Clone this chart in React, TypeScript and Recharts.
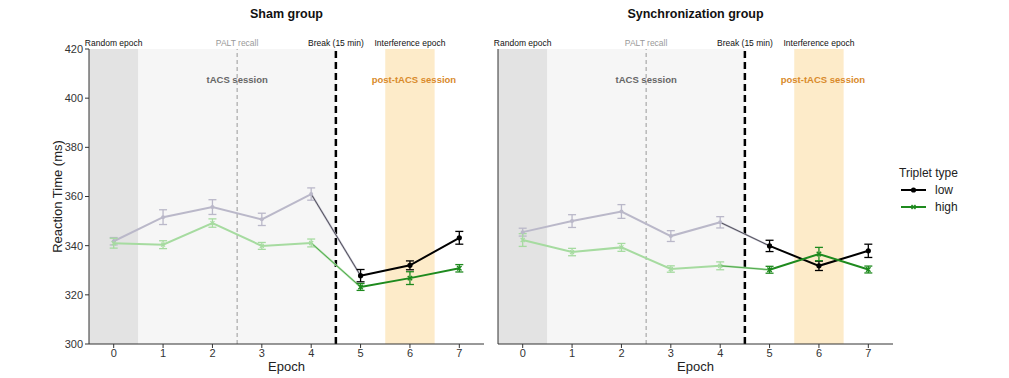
import React from 'react';
import { ComposedChart, Line, XAxis, YAxis, ReferenceArea, ReferenceLine, ErrorBar } from 'recharts';

const epochs = [0, 1, 2, 3, 4, 5, 6, 7];
const yTicks = [300, 320, 340, 360, 380, 400, 420];

const shamLow = [341.8, 351.6, 355.7, 350.7, 361.0, 327.8, 332.0, 343.2];
const shamLowErr = [1.5, 3.0, 3.0, 2.5, 2.5, 2.5, 1.8, 2.6];
const shamHigh = [341.0, 340.4, 349.2, 339.9, 341.1, 323.2, 326.8, 330.8];
const shamHighErr = [2.0, 1.6, 1.7, 1.4, 1.6, 1.4, 2.6, 1.5];

const syncLow = [345.5, 350.0, 353.9, 343.9, 349.5, 339.9, 331.8, 337.9];
const syncLowErr = [1.6, 2.6, 2.8, 2.2, 2.3, 2.3, 1.9, 2.7];
const syncHigh = [342.3, 337.4, 339.3, 330.5, 331.8, 330.2, 336.6, 330.3];
const syncHighErr = [2.6, 1.5, 1.6, 1.3, 1.6, 1.4, 2.7, 1.4];

const FONT = 'Arial, "Liberation Sans", Helvetica, sans-serif';
const C = {
  lowFaded: '#bab8c9',
  highFaded: '#a6dba0',
  low: '#000000',
  high: '#1e8a1e',
  axis: '#333333',
};

function buildRows(low: number[], lowErr: number[], high: number[], highErr: number[]) {
  return epochs.map((e, i) => ({
    epoch: e,
    lowPre: i <= 4 ? low[i] : null,
    lowPreErr: i <= 4 ? lowErr[i] : null,
    lowBridge: i >= 4 && i <= 5 ? low[i] : null,
    lowPost: i >= 5 ? low[i] : null,
    lowPostErr: i >= 5 ? lowErr[i] : null,
    highPre: i <= 4 ? high[i] : null,
    highPreErr: i <= 4 ? highErr[i] : null,
    highBridge: i >= 4 && i <= 5 ? high[i] : null,
    highPost: i >= 5 ? high[i] : null,
    highPostErr: i >= 5 ? highErr[i] : null,
  }));
}

const shamRows = buildRows(shamLow, shamLowErr, shamHigh, shamHighErr);
const syncRows = buildRows(syncLow, syncLowErr, syncHigh, syncHighErr);

const circleDot = (color: string, r: number) => (props: any) => {
  const { cx, cy, value, index } = props;
  if (cx == null || cy == null || value == null || isNaN(cy)) return <g key={`c${index}`} />;
  return <circle key={`c${index}`} cx={cx} cy={cy} r={r} fill={color} stroke="none" />;
};

const crossDot = (color: string, s: number, w: number) => (props: any) => {
  const { cx, cy, value, index } = props;
  if (cx == null || cy == null || value == null || isNaN(cy)) return <g key={`x${index}`} />;
  return (
    <path
      key={`x${index}`}
      d={`M${cx - s},${cy - s}L${cx + s},${cy + s}M${cx - s},${cy + s}L${cx + s},${cy - s}`}
      stroke={color}
      strokeWidth={w}
      fill="none"
    />
  );
};

const topLabel = (value: string, fill: string) => ({
  value,
  position: 'top' as const,
  offset: 3,
  fill,
  fontSize: 8.5,
  fontFamily: FONT,
});

function Panel({ title, rows, showYLabels, left }: { title: string; rows: any[]; showYLabels: boolean; left: number }) {
  return (
    <div style={{ position: 'absolute', left, top: 0, width: 500, height: 378 }}>
      <ComposedChart width={500} height={378} data={rows} margin={{ top: 49, right: 16, bottom: 4, left: 49 }}>
        <XAxis
          dataKey="epoch"
          type="number"
          domain={[-0.5, 7.5]}
          ticks={epochs}
          allowDataOverflow
          height={30}
          tickSize={4}
          tickMargin={1}
          stroke={C.axis}
          tick={{ fill: '#333', fontSize: 11, fontFamily: FONT }}
          label={{ value: 'Epoch', position: 'insideBottom', offset: 3, fill: '#222', fontSize: 13, fontFamily: FONT }}
        />
        <YAxis
          type="number"
          domain={[300, 420]}
          ticks={yTicks}
          allowDataOverflow
          width={40}
          tickSize={4}
          tickMargin={2}
          stroke={C.axis}
          tick={showYLabels ? { fill: '#333', fontSize: 11, fontFamily: FONT } : false}
          label={
            showYLabels
              ? {
                  value: 'Reaction Time (ms)',
                  angle: -90,
                  position: 'insideLeft',
                  offset: 8,
                  fill: '#222',
                  fontSize: 13,
                  fontFamily: FONT,
                  style: { textAnchor: 'middle' },
                }
              : undefined
          }
        />
        <ReferenceArea
          x1={-0.5}
          x2={7.5}
          fill="#ffffff"
          fillOpacity={0}
          stroke="none"
          label={{ value: title, position: 'top', offset: 31, fill: '#111', fontSize: 12.5, fontWeight: 'bold', fontFamily: FONT }}
        />
        <ReferenceArea
          x1={-0.5}
          x2={0.5}
          fill="#e3e3e3"
          fillOpacity={1}
          stroke="none"
          label={topLabel('Random epoch', '#111')}
        />
        <ReferenceArea
          x1={0.5}
          x2={4.5}
          fill="#f6f6f6"
          fillOpacity={1}
          stroke="none"
          label={{ value: 'tACS session', position: 'insideTop', offset: 27, fill: '#666', fontSize: 9.5, fontWeight: 'bold', fontFamily: FONT }}
        />
        <ReferenceArea
          x1={5.5}
          x2={6.5}
          fill="#fdebc9"
          fillOpacity={1}
          stroke="none"
          label={{ value: 'post-tACS session', position: 'insideTop', offset: 27, dx: 4, fill: '#d98a2b', fontSize: 9.5, fontWeight: 'bold', fontFamily: FONT }}
        />
        <ReferenceLine x={2.5} stroke="#9a9a9a" strokeWidth={1} strokeDasharray="4 3" label={topLabel('PALT recall', '#999')} />
        <ReferenceLine x={4.5} stroke="#000" strokeWidth={2.5} strokeDasharray="7 4" label={topLabel('Break (15 min)', '#111')} />
        <ReferenceLine x={6} stroke="none" strokeOpacity={0} label={topLabel('Interference epoch', '#111')} />

        <Line dataKey="lowPre" type="linear" stroke={C.lowFaded} strokeWidth={2} dot={circleDot(C.lowFaded, 2)} activeDot={false} isAnimationActive={false} legendType="none">
          <ErrorBar dataKey="lowPreErr" direction="y" width={4} stroke={C.lowFaded} strokeWidth={1.3} />
        </Line>
        <Line dataKey="highPre" type="linear" stroke={C.highFaded} strokeWidth={2} dot={crossDot(C.highFaded, 2, 1.2)} activeDot={false} isAnimationActive={false} legendType="none">
          <ErrorBar dataKey="highPreErr" direction="y" width={4} stroke={C.highFaded} strokeWidth={1.3} />
        </Line>
        <Line dataKey="lowBridge" type="linear" stroke={C.lowFaded} strokeWidth={2} dot={false} activeDot={false} isAnimationActive={false} legendType="none" />
        <Line dataKey="highBridge" type="linear" stroke={C.highFaded} strokeWidth={2} dot={false} activeDot={false} isAnimationActive={false} legendType="none" />
        <Line dataKey="lowBridge" type="linear" stroke={C.low} strokeWidth={0.8} strokeOpacity={0.7} dot={false} activeDot={false} isAnimationActive={false} legendType="none" />
        <Line dataKey="highBridge" type="linear" stroke={C.high} strokeWidth={0.8} strokeOpacity={0.8} dot={false} activeDot={false} isAnimationActive={false} legendType="none" />
        <Line dataKey="lowPost" type="linear" stroke={C.low} strokeWidth={2} dot={circleDot(C.low, 2.6)} activeDot={false} isAnimationActive={false} legendType="none">
          <ErrorBar dataKey="lowPostErr" direction="y" width={4} stroke={C.low} strokeWidth={1.3} />
        </Line>
        <Line dataKey="highPost" type="linear" stroke={C.high} strokeWidth={2} dot={crossDot(C.high, 2.2, 1.5)} activeDot={false} isAnimationActive={false} legendType="none">
          <ErrorBar dataKey="highPostErr" direction="y" width={4} stroke={C.high} strokeWidth={1.3} />
        </Line>
      </ComposedChart>
    </div>
  );
}

function TripletLegend() {
  return (
    <svg width={110} height={60} style={{ position: 'absolute', left: 895, top: 162 }}>
      <text x={4} y={15} fontSize={12} fontFamily={FONT} fill="#222">Triplet type</text>
      <line x1={6} x2={31} y1={28} y2={28} stroke={C.low} strokeWidth={2} />
      <circle cx={18.5} cy={28} r={2.6} fill={C.low} />
      <text x={40} y={32} fontSize={12} fontFamily={FONT} fill="#222">low</text>
      <line x1={6} x2={31} y1={45} y2={45} stroke={C.high} strokeWidth={2} />
      <path d="M16.5,43L20.5,47M16.5,47L20.5,43" stroke={C.high} strokeWidth={1.5} />
      <text x={40} y={49} fontSize={12} fontFamily={FONT} fill="#222">high</text>
    </svg>
  );
}

export default function App() {
  return (
    <div style={{ position: 'absolute', left: 0, top: 0, width: 1009, height: 378, background: '#fff', fontFamily: FONT }}>
      <Panel title="Sham group" rows={shamRows} showYLabels={true} left={0} />
      <Panel title="Synchronization group" rows={syncRows} showYLabels={false} left={409} />
      <TripletLegend />
    </div>
  );
}
